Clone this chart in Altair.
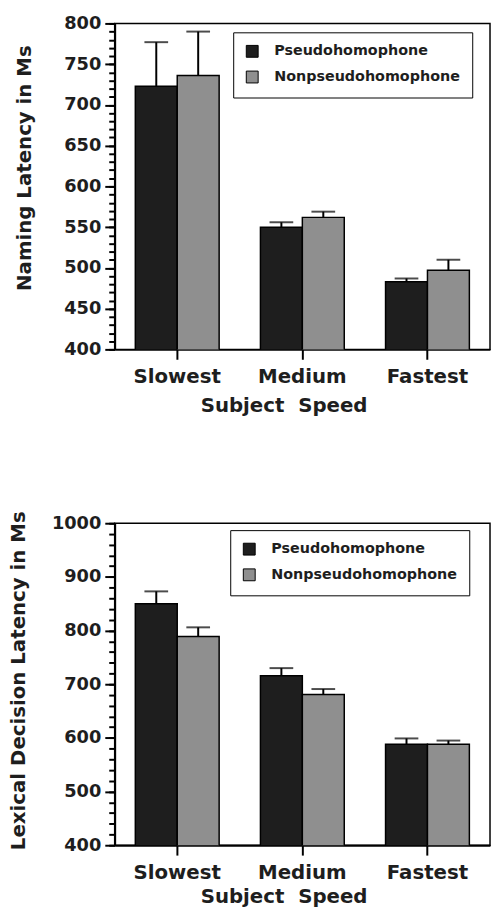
import altair as alt
import pandas as pd

categories = ["Slowest", "Medium", "Fastest"]
conditions = ["Pseudohomophone", "Nonpseudohomophone"]

naming_pseudo = [723, 550, 483]
naming_pseudo_top = [777, 556, 487]
naming_non = [736, 562, 497]
naming_non_top = [790, 569, 510]

lexical_pseudo = [850, 716, 588]
lexical_pseudo_top = [873, 730, 599]
lexical_non = [789, 681, 588]
lexical_non_top = [806, 691, 595]

naming_ticks = [400, 450, 500, 550, 600, 650, 700, 750, 800]
lexical_ticks = [400, 500, 600, 700, 800, 900, 1000]
naming_minor = list(range(400, 801, 10))
lexical_minor = list(range(400, 1001, 20))

FONT = "DejaVu Sans"
INK = "#1e1e1e"


def frame(p, p_top, n, n_top):
    rows = []
    for i, c in enumerate(categories):
        rows.append({"speed": c, "cond": conditions[0], "mean": p[i], "top": p_top[i]})
        rows.append({"speed": c, "cond": conditions[1], "mean": n[i], "top": n_top[i]})
    return pd.DataFrame(rows)


def panel(df, domain, majors, minors, ytitle, ytx, yty, xty, lx, ly, h):
    base = alt.Chart(df).encode(
        x=alt.X("speed:N", sort=categories,
                scale=alt.Scale(paddingInner=0.33, paddingOuter=0.165),
                axis=alt.Axis(title="Subject\u00a0\u00a0Speed", labelAngle=0,
                              labelFontSize=20, labelPadding=8, tickSize=10,
                              titleFontSize=20, titleX=171, titleY=xty,
                              titleBaseline="alphabetic", titleAlign="center")),
        xOffset=alt.XOffset("cond:N", sort=conditions,
                            scale=alt.Scale(paddingInner=0, paddingOuter=0)),
    )
    yscale = alt.Scale(domain=domain, nice=False, zero=False)
    bars = base.mark_bar(stroke="black", strokeWidth=1.5, clip=True).encode(
        y=alt.Y("mean:Q", scale=yscale,
                axis=alt.Axis(values=majors, title=ytitle, tickSize=10, format="d",
                              labelFontSize=18, labelPadding=4,
                              titleFontSize=20, titleAngle=-90,
                              titleX=ytx, titleY=yty, titleAlign="center",
                              titleBaseline="middle", orient="left")),
        color=alt.Color("cond:N", sort=conditions,
                        scale=alt.Scale(domain=conditions, range=["#1e1e1e", "#8f8f8f"]),
                        legend=alt.Legend(title=None, orient="none", legendX=lx, legendY=ly,
                                          strokeColor="black", padding=12, fillColor="white",
                                          symbolType="square", symbolSize=144,
                                          symbolStrokeColor="black", symbolStrokeWidth=1,
                                          labelFontSize=14.5, labelOffset=15, rowPadding=9,
                                          labelLimit=400,
                                          labelFont=FONT, labelFontWeight="bold",
                                          labelColor=INK)),
    )
    rules = base.mark_rule(strokeWidth=2, color="black").encode(
        y=alt.Y("mean:Q", scale=yscale,
                axis=alt.Axis(values=minors, labels=False, tickSize=6, domain=False,
                              title=None, orient="left", grid=False)),
        y2="top:Q",
    )
    caps = base.mark_tick(size=24, thickness=2, color="black", orient="horizontal").encode(
        y=alt.Y("top:Q", scale=yscale, axis=None),
    )
    return alt.layer(bars, rules, caps).resolve_axis(y="independent").properties(
        width=380, height=h)


top = panel(frame(naming_pseudo, naming_pseudo_top, naming_non, naming_non_top),
            [400, 800], naming_ticks, naming_minor, "Naming Latency in Ms",
            -91, 146, 63, 120, 9, 330)
bottom = panel(frame(lexical_pseudo, lexical_pseudo_top, lexical_non, lexical_non_top),
               [400, 1000], lexical_ticks, lexical_minor,
               "Lexical Decision Latency in Ms", -97, 159, 58, 117, 7, 326)

chart = alt.vconcat(top, bottom, spacing=94).resolve_scale(color="independent").properties(
    padding={"left": 0, "top": 0, "right": 0, "bottom": 0}, background="white"
).configure_view(stroke="black", strokeWidth=1.5).configure_axis(
    labelFont=FONT, labelFontWeight="bold", labelColor=INK,
    titleFont=FONT, titleFontWeight="bold", titleColor=INK,
    domainColor="black", domainWidth=2, tickColor="black", tickWidth=2,
    grid=False,
)

chart.save("out.html", embed_options={"renderer": "svg", "actions": False})
